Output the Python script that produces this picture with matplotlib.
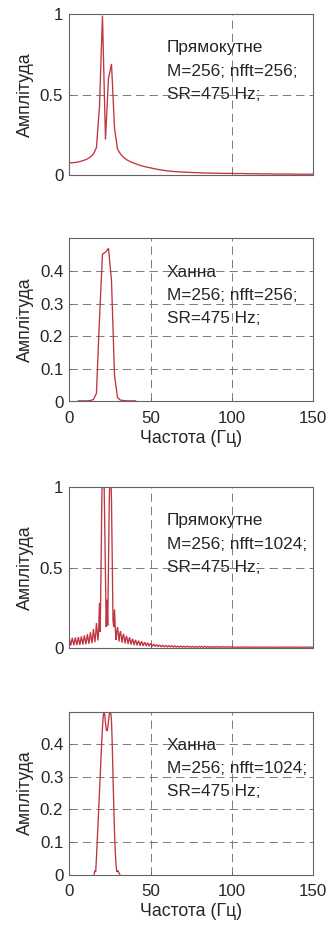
import numpy as np
import matplotlib
matplotlib.use("Agg")
import matplotlib.pyplot as plt

plt.rcParams['font.family'] = ['Liberation Sans', 'DejaVu Sans']

SR = 475.0
M = 256

# Rectangular window, nfft = 256 (bins 0..81)
rect256 = [
    0.075, 0.076, 0.078, 0.081, 0.086, 0.092, 0.100, 0.112, 0.130, 0.170,
    0.420, 0.990, 0.220, 0.600, 0.690, 0.290, 0.160, 0.130, 0.110, 0.095,
    0.085, 0.077, 0.070, 0.063, 0.057, 0.052, 0.048, 0.044, 0.040, 0.036,
    0.033, 0.030, 0.027, 0.025, 0.023, 0.021, 0.020, 0.019, 0.018, 0.017,
    0.016, 0.015, 0.015, 0.014, 0.013, 0.013, 0.012, 0.012, 0.011, 0.011,
    0.011, 0.010, 0.010, 0.010, 0.010, 0.009, 0.009, 0.009, 0.009, 0.008,
    0.008, 0.008, 0.008, 0.007, 0.007, 0.007, 0.007, 0.007, 0.006, 0.006,
    0.006, 0.006, 0.006, 0.006, 0.005, 0.005, 0.005, 0.005, 0.005, 0.005,
    0.005, 0.005,
]

# Hann window, nfft = 256 (bins 3..22)
hann256_start = 3
hann256 = [
    0.002, 0.002, 0.002, 0.002, 0.003, 0.006, 0.025, 0.250, 0.452, 0.458,
    0.470, 0.370, 0.080, 0.012, 0.004, 0.003, 0.002, 0.002, 0.002, 0.002,
]

# Rectangular window, nfft = 1024 (bins 0..323)
rect1024 = [
    0.062, 0.040, 0.016, 0.040, 0.063, 0.041, 0.017, 0.041,
    0.065, 0.042, 0.018, 0.043, 0.068, 0.044, 0.019, 0.045,
    0.072, 0.047, 0.021, 0.048, 0.078, 0.051, 0.023, 0.052,
    0.086, 0.056, 0.026, 0.058, 0.098, 0.064, 0.030, 0.067,
    0.118, 0.077, 0.036, 0.082, 0.155, 0.100, 0.047, 0.110,
    0.280, 0.100, 0.450, 0.860, 1.160, 1.250, 1.080, 0.780,
    0.450, 0.130, 0.300, 0.140, 0.500, 0.890, 1.120, 1.130,
    0.910, 0.560, 0.170, 0.130, 0.240, 0.120, 0.050, 0.100,
    0.130, 0.085, 0.040, 0.090, 0.105, 0.068, 0.033, 0.072,
    0.088, 0.057, 0.028, 0.060, 0.075, 0.049, 0.024, 0.051,
    0.065, 0.043, 0.021, 0.044, 0.057, 0.037, 0.018, 0.039,
    0.050, 0.033, 0.016, 0.034, 0.045, 0.030, 0.014, 0.031,
    0.040, 0.027, 0.013, 0.027, 0.036, 0.024, 0.012, 0.025,
    0.032, 0.021, 0.011, 0.022, 0.028, 0.019, 0.010, 0.019,
    0.024, 0.017, 0.009, 0.017, 0.021, 0.015, 0.008, 0.015,
    0.019, 0.013, 0.007, 0.013, 0.017, 0.012, 0.007, 0.012,
    0.016, 0.011, 0.006, 0.011, 0.015, 0.010, 0.006, 0.010,
    0.014, 0.010, 0.006, 0.010, 0.013, 0.009, 0.005, 0.009,
    0.012, 0.009, 0.005, 0.009, 0.012, 0.008, 0.005, 0.008,
    0.011, 0.008, 0.005, 0.008, 0.011, 0.008, 0.005, 0.008,
    0.010, 0.007, 0.005, 0.007, 0.010, 0.007, 0.004, 0.007,
    0.010, 0.007, 0.004, 0.007, 0.010, 0.007, 0.004, 0.007,
    0.010, 0.007, 0.004, 0.007, 0.010, 0.007, 0.004, 0.007,
    0.009, 0.006, 0.004, 0.006, 0.009, 0.006, 0.004, 0.006,
    0.009, 0.006, 0.004, 0.006, 0.009, 0.006, 0.004, 0.006,
    0.009, 0.006, 0.004, 0.006, 0.009, 0.006, 0.004, 0.006,
    0.009, 0.006, 0.004, 0.006, 0.009, 0.006, 0.004, 0.006,
    0.007, 0.005, 0.004, 0.005, 0.007, 0.005, 0.004, 0.005,
    0.007, 0.005, 0.004, 0.005, 0.007, 0.005, 0.004, 0.005,
    0.007, 0.005, 0.004, 0.005, 0.007, 0.005, 0.004, 0.005,
    0.007, 0.005, 0.004, 0.005, 0.007, 0.005, 0.004, 0.005,
    0.007, 0.005, 0.004, 0.005, 0.007, 0.005, 0.004, 0.005,
    0.006, 0.005, 0.004, 0.005, 0.006, 0.005, 0.004, 0.005,
    0.006, 0.005, 0.004, 0.005, 0.006, 0.005, 0.004, 0.005,
    0.006, 0.005, 0.004, 0.005, 0.006, 0.005, 0.004, 0.005,
    0.006, 0.005, 0.004, 0.005, 0.006, 0.005, 0.004, 0.005,
    0.006, 0.005, 0.004, 0.005, 0.006, 0.005, 0.004, 0.005,
    0.006, 0.005, 0.004, 0.005, 0.006, 0.005, 0.004, 0.005,
    0.006, 0.005, 0.004, 0.005, 0.006, 0.005, 0.004, 0.005,
    0.006, 0.005, 0.004, 0.005, 0.006, 0.005, 0.004, 0.005,
    0.006, 0.005, 0.004, 0.005,
]

# Hann window, nfft = 1024 (bins 33..67)
hann1024_start = 33
hann1024 = [
    0.001, 0.012, 0.008, 0.050, 0.100, 0.150, 0.200, 0.250, 0.300, 0.355,
    0.405, 0.450, 0.485, 0.500, 0.490, 0.465, 0.445, 0.440, 0.450, 0.470,
    0.490, 0.500, 0.495, 0.470, 0.400, 0.300, 0.210, 0.130, 0.070, 0.030,
    0.008, 0.012, 0.010, 0.004, 0.001,
]

titles = ["Прямокутне", "Ханна", "Прямокутне", "Ханна"]
nffts = [256, 256, 1024, 1024]
series = [rect256, hann256, rect1024, hann1024]
starts = [0, hann256_start, 0, hann1024_start]
ylims = [1.0, 0.5, 1.0, 0.5]
yticks = [[0, 0.5, 1], [0, 0.1, 0.2, 0.3, 0.4], [0, 0.5, 1], [0, 0.1, 0.2, 0.3, 0.4]]
yticklabels = [["0", "0.5", "1"], ["0", "0.1", "0.2", "0.3", "0.4"],
               ["0", "0.5", "1"], ["0", "0.1", "0.2", "0.3", "0.4"]]
xticks_list = [[0, 100], [0, 50, 100, 150], [0, 50, 100, 150], [0, 50, 100, 150]]
show_xlabels = [False, True, False, True]

W, H = 326, 930
# axes boxes in pixels: (left, top, right, bottom)
boxes = [
    (69.3, 14.0, 313.0, 175.0),
    (69.3, 238.5, 313.0, 401.5),
    (69.3, 487.0, 313.0, 648.0),
    (69.3, 711.5, 313.0, 874.5),
]

LINE_C = '#c03540'
AX_C = '#646464'
TXT_C = '#262626'
GRID_C = '#7a7a7a'
GRID_LW = 0.7

fig = plt.figure(figsize=(W / 100, H / 100), dpi=100)
fig.patch.set_facecolor('white')

for i in range(4):
    l, t, r, b = boxes[i]
    ax = fig.add_axes([l / W, 1 - b / H, (r - l) / W, (b - t) / H])
    vals = np.array(series[i])
    freqs = (starts[i] + np.arange(len(vals))) * SR / nffts[i]
    ax.plot(freqs, vals, color=LINE_C, lw=0.95, solid_joinstyle='miter')

    ax.set_xlim(0, 150)
    ax.set_ylim(0, ylims[i])
    ax.set_xticks(xticks_list[i])
    ax.set_yticks(yticks[i])
    ax.set_yticklabels(yticklabels[i])
    if show_xlabels[i]:
        ax.set_xticklabels([str(v) for v in xticks_list[i]])
        ax.set_xlabel("Частота (Гц)", fontsize=12.8, color=TXT_C, va='center')
        ax.xaxis.set_label_coords(0.5, -36.8 / (b - t))
    else:
        ax.set_xticklabels([])

    ax.set_ylabel("Амплітуда", fontsize=12.8, color=TXT_C, va='center')
    ax.yaxis.set_label_coords(-(l - 25.5) / (r - l), 0.5)

    ax.tick_params(axis='both', direction='in', length=2.5, width=0.6,
                   color=AX_C, labelcolor=TXT_C, labelsize=12.2)
    ax.tick_params(axis='x', pad=6.5)
    ax.tick_params(axis='y', pad=4.3)
    for s in ax.spines.values():
        s.set_color(AX_C)
        s.set_linewidth(0.8)

    ax.grid(True, color=GRID_C, linestyle=(0, (6.0 / GRID_LW, 3.6 / GRID_LW)),
            linewidth=GRID_LW)
    ax.set_axisbelow(True)

    lines = [titles[i], f"M={M}; nfft={nffts[i]};", "SR=475 Hz;"]
    if ylims[i] == 1.0:
        ys = [0.79, 0.645, 0.50]
    else:
        ys = [0.397, 0.326, 0.255]
    for yy, s in zip(ys, lines):
        ax.text(60, yy, s, fontsize=12.4, color=TXT_C, ha='left', va='center')

fig.savefig("out.png", dpi=100, facecolor='white')
